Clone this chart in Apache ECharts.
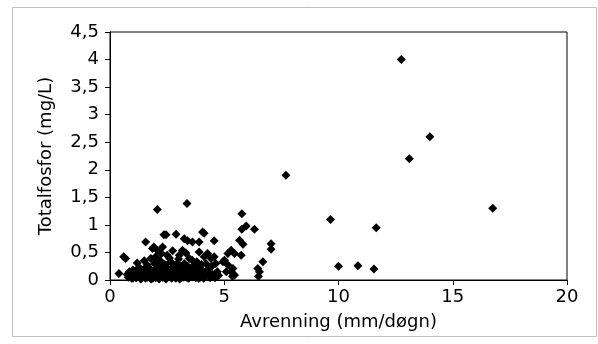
<!DOCTYPE html>
<html>
<head>
<meta charset="utf-8">
<script src="https://cdn.jsdelivr.net/npm/echarts@6/dist/echarts.min.js"></script>
<style>
html,body{margin:0;padding:0;background:#fff;}
#chart{width:598px;height:344px;}
</style>
</head>
<body>
<div id="chart"></div>
<script>
// Avrenning (mm/døgn)
const runoff = [
12.75,14.0,13.1,7.7,16.75,9.65,11.65,10.0,10.85,11.55,
7.05,7.05,6.69,6.47,6.54,6.5,
2.07,3.37,5.77,5.77,5.96,6.32,5.67,5.82,
5.3,5.16,5.01,5.45,5.74,5.16,5.38,5.09,5.45,5.3,4.94,5.36,
2.36,1.56,1.92,2.07,0.68,0.6,1.19,1.63,0.39,
2.45,2.89,3.25,3.39,3.61,3.9,4.12,4.05,4.56,
2.74,3.17,3.32,3.03,4.27,4.42,4.12,4.63,3.47,3.9,3.6,2.3,1.86,1.79,4.2,4.56,
1.0,1.3,1.45,1.7,1.95,2.1,2.2,2.4,2.55,2.65,2.8,2.95,3.1,3.25,3.4,3.55,3.7,3.85,4.0,4.3,4.45,4.7,2.0,2.5,3.0,2.25,2.6,1.5,3.8,4.0,
0.8,0.9,0.95,1.05,1.1,1.15,1.25,1.3,1.35,1.4,1.5,1.55,1.6,1.65,1.75,1.8,1.85,1.9,2.0,2.05,2.1,2.15,2.2,2.3,2.35,2.4,2.45,2.5,2.6,2.65,2.7,2.75,2.85,2.9,3.0,3.05,3.1,3.2,3.3,3.35,3.45,3.5,3.6,3.7,3.75,3.85,3.95,4.05,4.1,4.2,4.35,4.5,4.6,4.75,
0.85,1.2,1.7,2.25,2.8,3.35,3.9,1.0,0.75,
1.12,1.38,1.62,1.88,2.12,2.38,2.62,2.88,3.12,3.38,3.62,3.88,4.12,4.38,
1.05,1.32,1.58,1.82,2.08,2.32,2.58,2.82,3.08,3.32,3.58,3.82,4.08,4.32,4.58,
1.22,1.48,1.72,1.98,2.22,2.48,2.72,2.98,3.22,3.48,3.72,3.98,4.25
];
// Totalfosfor (mg/L)
const phosphorus = [
4.0,2.6,2.2,1.9,1.3,1.1,0.95,0.25,0.26,0.2,
0.66,0.56,0.33,0.21,0.15,0.07,
1.28,1.39,1.2,0.92,0.98,0.92,0.72,0.65,
0.54,0.48,0.36,0.48,0.45,0.27,0.21,0.15,0.09,0.15,0.33,0.07,
0.82,0.69,0.6,0.54,0.39,0.42,0.31,0.27,0.12,
0.82,0.83,0.75,0.71,0.69,0.69,0.85,0.87,0.71,
0.53,0.54,0.49,0.45,0.48,0.39,0.42,0.3,0.39,0.51,0.36,0.6,0.57,0.39,0.3,0.42,
0.18,0.22,0.15,0.2,0.3,0.25,0.35,0.28,0.2,0.33,0.25,0.3,0.22,0.3,0.25,0.2,0.28,0.22,0.18,0.2,0.25,0.15,0.42,0.45,0.38,0.48,0.4,0.35,0.33,0.28,
0.05,0.1,0.03,0.08,0.12,0.04,0.07,0.1,0.02,0.06,0.09,0.03,0.12,0.05,0.08,0.02,0.11,0.06,0.04,0.14,0.08,0.02,0.11,0.05,0.13,0.08,0.02,0.1,0.06,0.13,0.03,0.09,0.05,0.12,0.07,0.02,0.1,0.05,0.13,0.08,0.03,0.11,0.06,0.13,0.04,0.09,0.05,0.12,0.03,0.08,0.06,0.1,0.04,0.08,
0.15,0.16,0.14,0.17,0.16,0.17,0.15,0.03,0.1,
0.05,0.04,0.06,0.03,0.05,0.04,0.06,0.03,0.05,0.04,0.06,0.03,0.05,0.04,
0.13,0.12,0.14,0.11,0.12,0.14,0.11,0.13,0.12,0.14,0.11,0.13,0.12,0.14,0.11,
0.21,0.19,0.22,0.2,0.21,0.19,0.22,0.2,0.18,0.21,0.19,0.2,0.18
];
const xTitle = 'Avrenning (mm/døgn)';
const yTitle = 'Totalfosfor (mg/L)';

const points = runoff.map((x, i) => [x, phosphorus[i]]);
const FONT = 'DejaVu Sans';
const comma = v => String(v).replace('.', ',');

const chart = echarts.init(document.getElementById('chart'), null, {renderer: 'canvas'});
chart.setOption({
  animation: false,
  backgroundColor: '#fff',
  graphic: [{
    type: 'rect', silent: true,
    shape: {x: 12.5, y: 7.5, width: 584, height: 329},
    style: {fill: 'none', stroke: '#bfbfbf', lineWidth: 1}
  }],
  grid: {left: 110, right: 31, top: 32, bottom: 64, show: true, borderColor: '#000', borderWidth: 1, backgroundColor: 'transparent'},
  xAxis: {
    type: 'value', min: 0, max: 20, interval: 5,
    name: xTitle, nameLocation: 'middle', nameGap: 33,
    nameTextStyle: {fontFamily: FONT, fontSize: 18, color: '#000'},
    axisLine: {show: true, onZero: false, lineStyle: {color: '#000', width: 1}},
    axisTick: {show: true, inside: false, length: 5, lineStyle: {color: '#000'}},
    axisLabel: {fontFamily: FONT, fontSize: 18, color: '#000', margin: 8, formatter: comma},
    splitLine: {show: false}
  },
  yAxis: {
    type: 'value', min: 0, max: 4.5, interval: 0.5,
    name: yTitle, nameLocation: 'middle', nameGap: 55, nameRotate: 90,
    nameTextStyle: {fontFamily: FONT, fontSize: 18, color: '#000'},
    axisLine: {show: true, onZero: false, lineStyle: {color: '#000', width: 1}},
    axisTick: {show: true, inside: false, length: 5, lineStyle: {color: '#000'}},
    axisLabel: {fontFamily: FONT, fontSize: 18, color: '#000', margin: 11, formatter: comma},
    splitLine: {show: false}
  },
  series: [{
    type: 'scatter',
    data: points,
    symbol: 'diamond',
    symbolSize: 9,
    itemStyle: {color: '#000', opacity: 1}
  }]
});
</script>
</body>
</html>
